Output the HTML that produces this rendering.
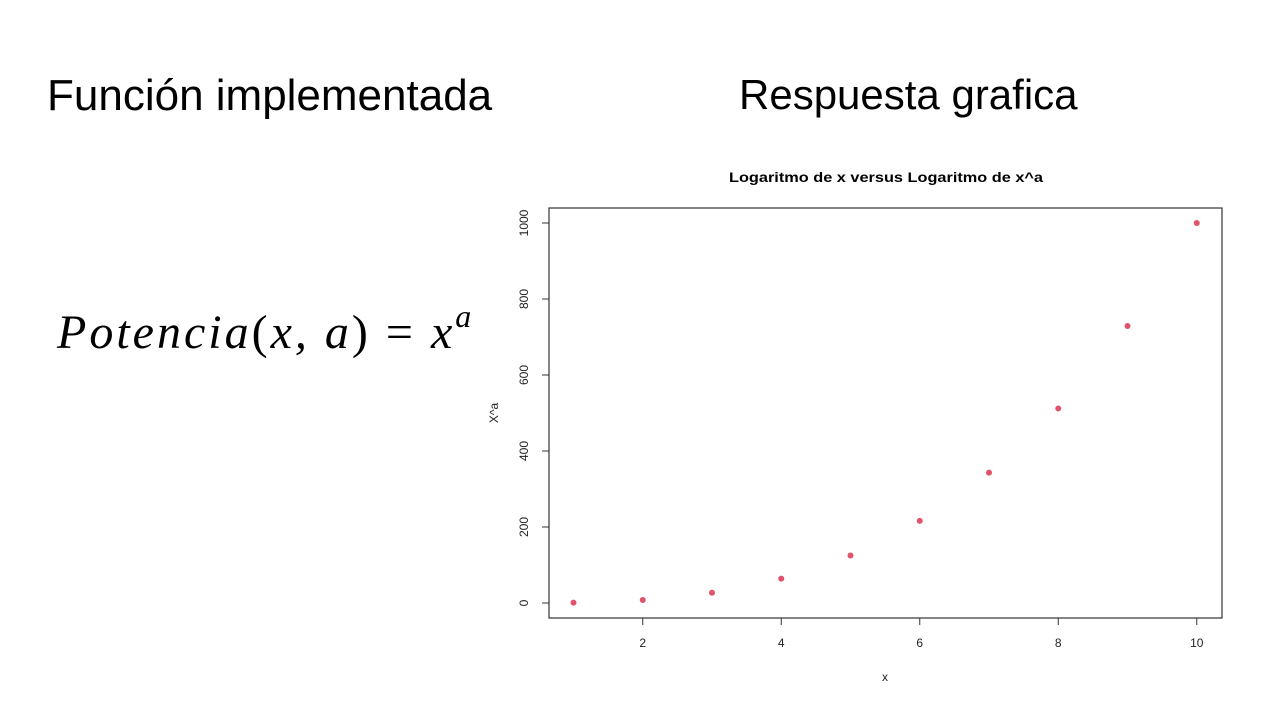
<!DOCTYPE html>
<html><head><meta charset="utf-8"><style>
body{margin:0;width:1280px;height:720px;background:#fff;overflow:hidden;position:relative;font-family:"Liberation Sans",sans-serif}
.h{position:absolute;font-size:42px;color:#000;line-height:1;white-space:nowrap}
</style></head><body>
<div class="h" style="left:47px;top:74px;font-size:44px">Función implementada</div>
<div class="h" style="left:739px;top:74px;font-size:42px">Respuesta grafica</div>
<div style="position:absolute;left:57px;top:302px;font-family:'Liberation Serif',serif;font-style:italic;font-size:48px;letter-spacing:3px;white-space:nowrap">Potencia<span style="font-style:normal">(</span>x, a<span style="font-style:normal">) = </span>x<sup style="font-size:32px;position:relative;top:-4px">a</sup></div>
<svg id="chart" width="1280" height="720" style="position:absolute;left:0;top:0" xmlns="http://www.w3.org/2000/svg"></svg>
<script>
const xs=[1,2,3,4,5,6,7,8,9,10];
const ys=[1,8,27,64,125,216,343,512,729,1000];
const xTicks=[2,4,6,8,10];
const yTicks=[0,200,400,600,800,1000];
const NS="http://www.w3.org/2000/svg",svg=document.getElementById('chart');
const X=v=>573.5+(v-1)*69.25, Y=v=>603-v*0.38;
function mk(t,a,txt){const e=document.createElementNS(NS,t);for(const k in a)e.setAttribute(k,a[k]);if(txt!=null)e.textContent=txt;svg.appendChild(e);return e;}
let e;
e=mk('rect',{x:549,y:208,width:673,height:410,fill:'none',stroke:'#333','stroke-width':1.2});


e=mk('text',{x:729,y:182,'font-size':14,'font-weight':'bold',fill:'#000',textLength:314,lengthAdjust:'spacingAndGlyphs'},'Logaritmo de x versus Logaritmo de x^a');


xTicks.forEach(t=>{
 e=mk('line',{x1:X(t),x2:X(t),y1:618,y2:625,stroke:'#333'});
 
 
 e=mk('text',{x:X(t),y:647,'text-anchor':'middle','font-size':12,fill:'#222'},t);
 
 
});
yTicks.forEach(t=>{
 e=mk('line',{x1:542,x2:549,y1:Y(t),y2:Y(t),stroke:'#333'});
 
 
 e=mk('text',{x:528,y:Y(t),'text-anchor':'middle','font-size':12,fill:'#222',transform:`rotate(-90 528 ${Y(t)})`},t);
 
 
});
e=mk('text',{x:885,y:681,'text-anchor':'middle','font-size':12,fill:'#222'},'x');


e=mk('text',{x:498,y:413,'text-anchor':'middle','font-size':12,fill:'#222',transform:'rotate(-90 498 413)'},'X^a');


xs.forEach((x,i)=>{
 e=mk('circle',{cx:X(x),cy:Y(ys[i]),r:3,fill:'#DF536B'});
 
 
});
</script>
</body></html>
